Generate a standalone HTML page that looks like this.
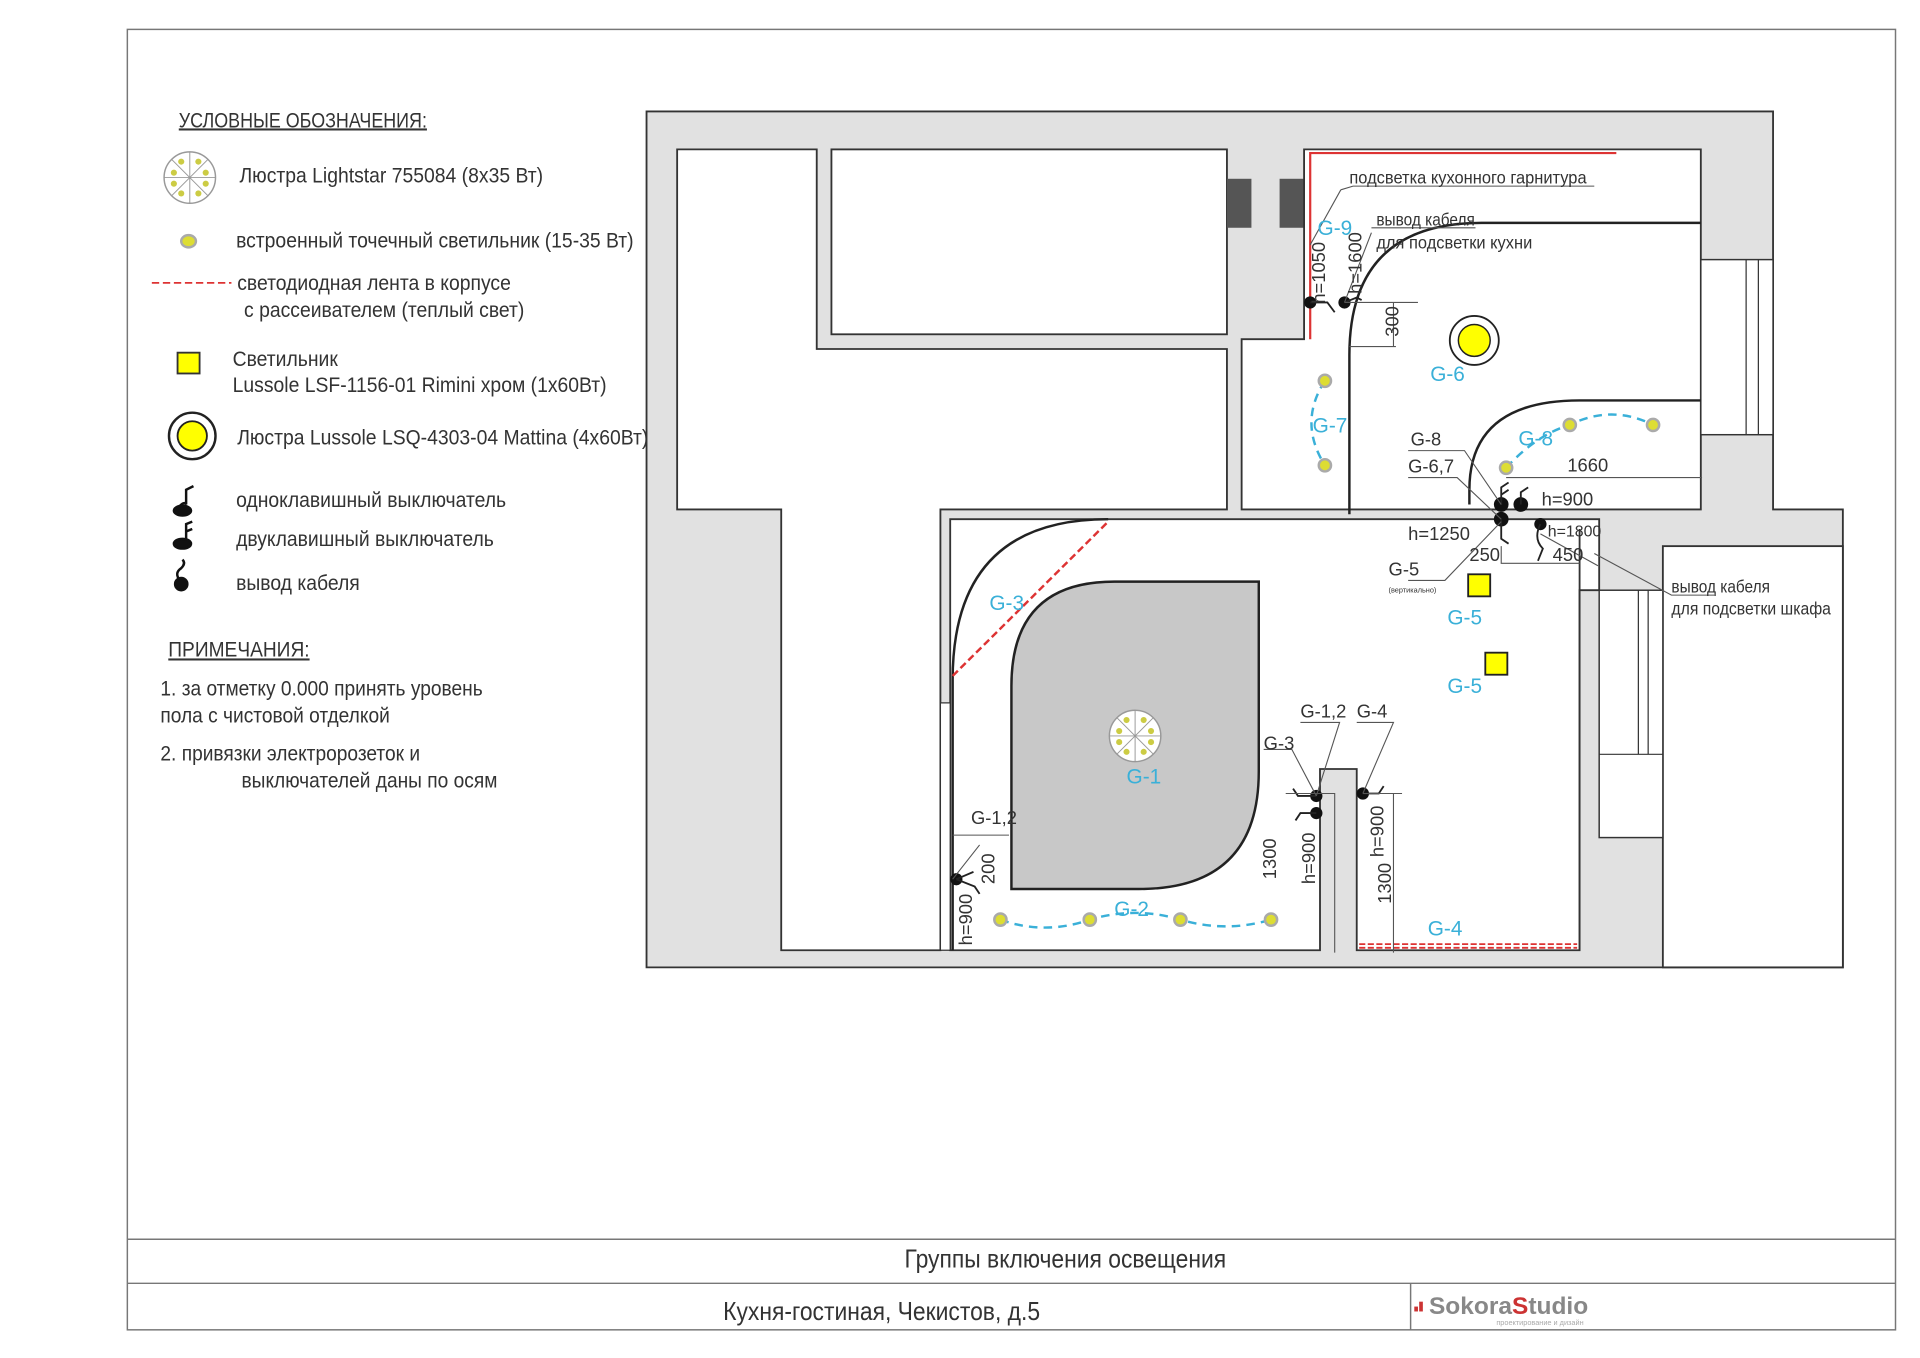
<!DOCTYPE html>
<html><head><meta charset="utf-8"><style>
html,body{margin:0;padding:0;background:#fff;}
svg{display:block;}
text{font-family:"Liberation Sans Narrow","Liberation Sans",sans-serif;}
</style></head><body>
<svg width="1920" height="1358" viewBox="0 0 1568 1109" preserveAspectRatio="none" xmlns="http://www.w3.org/2000/svg">
<rect x="0" y="0" width="1568" height="1109" fill="#fff"/>
<!-- frame -->
<rect x="104" y="24" width="1444" height="1062" fill="none" stroke="#777" stroke-width="1.2"/>
<line x1="104" y1="1012" x2="1548" y2="1012" stroke="#777" stroke-width="1.2"/>
<line x1="104" y1="1048" x2="1548" y2="1048" stroke="#777" stroke-width="1.2"/>
<line x1="1152" y1="1048" x2="1152" y2="1086" stroke="#777" stroke-width="1.2"/>
<text x="870" y="1035" font-size="21" text-anchor="middle" fill="#333" transform="translate(870 0) scale(0.89 1) translate(-870 0)">Группы включения освещения</text>
<text x="720" y="1078" font-size="21" text-anchor="middle" fill="#333" transform="translate(720 0) scale(0.89 1) translate(-720 0)">Кухня-гостиная, Чекистов,  д.5</text>
<rect x="1155" y="1067" width="3" height="4" fill="#c33"/><rect x="1159" y="1063" width="3" height="8" fill="#c33"/>
<text x="1167" y="1073" font-size="20" font-weight="bold" fill="#888">Sokora<tspan fill="#c33">S</tspan>tudio</text>
<text x="1222" y="1082" font-size="6" fill="#aaa">проектирование и дизайн</text>

<!-- legend -->
<g fill="#333" font-size="17">
<text x="146" y="104" text-decoration="underline" transform="translate(146 0) scale(0.86 1) translate(-146 0)">УСЛОВНЫЕ ОБОЗНАЧЕНИЯ:</text>
<g transform="translate(190 0) scale(0.93 1) translate(-190 0)">
<text x="196" y="149">Люстра Lightstar 755084 (8x35 Вт)</text>
<text x="193" y="202">встроенный точечный светильник (15-35 Вт)</text>
<text x="194" y="237">светодиодная лента в корпусе</text>
<text x="200" y="259">с рассеивателем (теплый свет)</text>
<text x="190" y="299">Светильник</text>
<text x="190" y="320">Lussole LSF-1156-01 Rimini хром  (1x60Вт)</text>
<text x="194" y="363">Люстра Lussole LSQ-4303-04 Mattina (4x60Вт)</text>
<text x="193" y="414">одноклавишный выключатель</text>
<text x="193" y="446">двуклавишный выключатель</text>
<text x="193" y="482">вывод кабеля</text>
</g>
<g transform="translate(131 0) scale(0.92 1) translate(-131 0)">
<text x="138" y="536" text-decoration="underline">ПРИМЕЧАНИЯ:</text>
<text x="131" y="568">1. за отметку 0.000 принять уровень</text>
<text x="131" y="590">пола с чистовой отделкой</text>
<text x="131" y="621">2. привязки электророзеток и</text>
<text x="203" y="643">выключателей даны по осям</text>
</g>
</g>
<rect x="528" y="340" width="30" height="40" fill="#fff"/>
<circle cx="155" cy="145" r="21" fill="#fff" stroke="#999" stroke-width="1.2"/>
<g stroke="#999" stroke-width="0.8"><line x1="134" y1="145" x2="176" y2="145"/><line x1="155" y1="124" x2="155" y2="166"/><line x1="140" y1="130" x2="170" y2="160"/><line x1="170" y1="130" x2="140" y2="160"/></g>
<g fill="#cc4" ><circle cx="148" cy="132" r="2.5"/><circle cx="162" cy="132" r="2.5"/><circle cx="142" cy="141" r="2.5"/><circle cx="168" cy="141" r="2.5"/><circle cx="142" cy="150" r="2.5"/><circle cx="168" cy="150" r="2.5"/><circle cx="148" cy="158" r="2.5"/><circle cx="162" cy="158" r="2.5"/></g>
<ellipse cx="154" cy="197" rx="6" ry="5" fill="#dd3" stroke="#aaa" stroke-width="2"/>
<line x1="124" y1="231" x2="189" y2="231" stroke="#d33" stroke-width="1.5" stroke-dasharray="6 3"/>
<rect x="145" y="288" width="18" height="17" fill="#ff0" stroke="#333" stroke-width="1.5"/>
<circle cx="157" cy="356" r="19" fill="#fff" stroke="#222" stroke-width="2"/>
<circle cx="157" cy="356" r="12" fill="#ff0" stroke="#222" stroke-width="1.5"/>
<g fill="#111" stroke="#111" stroke-width="2">
<path d="M143,418 Q150,408 152,412 L152,400 L158,397" fill="none"/><ellipse cx="149" cy="417" rx="7" ry="4"/>
<path d="M152,440 L152,428 L157,426 M152,434 L157,432" fill="none"/><ellipse cx="149" cy="444" rx="7" ry="4"/>
<path d="M147,474 Q142,468 148,464 Q152,460 149,457" fill="none"/><circle cx="148" cy="477" r="5"/>
</g>

<!-- plan -->
<path d="M528,91 H1448 V416 H1505 V790 H528 Z" fill="#e1e1e1" stroke="#333" stroke-width="1.5"/>
<path d="M553,122 H667 V285 H1002 V416 H768 V776 H638 V416 H553 Z" fill="#fff" stroke="#333" stroke-width="1.5"/>
<rect x="679" y="122" width="323" height="151" fill="#fff" stroke="#333" stroke-width="1.5"/>
<rect x="1002" y="146" width="20" height="40" fill="#555"/>
<rect x="1045" y="146" width="20" height="40" fill="#555"/>
<path d="M1065,122 H1389 V416 H1014 V277 H1065 Z" fill="#fff" stroke="#333" stroke-width="1.5"/>
<rect x="1389" y="212" width="59" height="143" fill="#fff" stroke="#333" stroke-width="1.2"/>
<line x1="1426" y1="212" x2="1426" y2="355" stroke="#333"/><line x1="1436" y1="212" x2="1436" y2="355" stroke="#333"/>
<path d="M776,424 H1306 V482 H1290 V776 H1108 V628 H1078 V776 H776 Z" fill="#fff" stroke="#333" stroke-width="1.5"/>
<line x1="1290" y1="432" x2="1290" y2="776" stroke="#333" stroke-width="1.5"/>
<rect x="768" y="574" width="8" height="202" fill="#fff" stroke="#333"/>
<rect x="1358" y="446" width="147" height="344" fill="#fff" stroke="#333" stroke-width="1.5"/>
<rect x="1306" y="482" width="52" height="202" fill="#fff" stroke="#333" stroke-width="1.2"/>
<line x1="1306" y1="616" x2="1358" y2="616" stroke="#333"/>
<line x1="1338" y1="482" x2="1338" y2="616" stroke="#333"/><line x1="1346" y1="482" x2="1346" y2="616" stroke="#333"/>
<!-- arcs -->
<g fill="none" stroke="#222" stroke-width="2">
<path d="M1102,420 L1102,290 Q1102,182 1210,182 L1389,182"/>
<path d="M1200,412 L1200,400 Q1200,327 1290,327 L1389,327"/>
<path d="M778,776 L778,555 Q778,424 905,424"/>
</g>
<path d="M826,560 Q826,475 910,475 L1028,475 L1028,630 Q1028,726 930,726 L826,726 Z" fill="#c8c8c8" stroke="#222" stroke-width="2"/>
<!-- red -->
<path d="M1070,277 V125 H1320" fill="none" stroke="#d33" stroke-width="1.8"/>
<line x1="778" y1="552" x2="905" y2="426" stroke="#d33" stroke-width="2" stroke-dasharray="6 3"/>
<line x1="1110" y1="771" x2="1288" y2="771" stroke="#d33" stroke-width="1.5" stroke-dasharray="5 2"/>
<line x1="1110" y1="774" x2="1288" y2="774" stroke="#d33" stroke-width="1.5" stroke-dasharray="5 2"/>
<!-- blue dashed -->
<g fill="none" stroke="#3ab0d8" stroke-width="2" stroke-dasharray="7 5">
<path d="M817,751 Q853,764 890,751 Q927,740 964,751 Q1001,762 1038,751"/>
<path d="M1082,311 Q1060,345 1082,380"/>
<path d="M1230,382 Q1255,355 1282,347 Q1316,330 1350,347"/>
</g>
<g fill="#dd3" stroke="#aaa" stroke-width="2">
<circle cx="817" cy="751" r="5"/><circle cx="890" cy="751" r="5"/><circle cx="964" cy="751" r="5"/><circle cx="1038" cy="751" r="5"/>
<circle cx="1082" cy="311" r="5"/><circle cx="1082" cy="380" r="5"/><circle cx="1282" cy="347" r="5"/><circle cx="1350" cy="347" r="5"/><circle cx="1230" cy="382" r="5"/>
</g>
<circle cx="1204" cy="278" r="20" fill="#fff" stroke="#222" stroke-width="1.5"/>
<circle cx="1204" cy="278" r="13" fill="#ff0" stroke="#222" stroke-width="1.2"/>
<circle cx="927" cy="601" r="21" fill="#fff" stroke="#999" stroke-width="1.2"/>
<g stroke="#999" stroke-width="0.8"><line x1="906" y1="601" x2="948" y2="601"/><line x1="927" y1="580" x2="927" y2="622"/><line x1="912" y1="586" x2="942" y2="616"/><line x1="942" y1="586" x2="912" y2="616"/></g>
<g fill="#cc4"><circle cx="920" cy="588" r="2.5"/><circle cx="934" cy="588" r="2.5"/><circle cx="914" cy="597" r="2.5"/><circle cx="940" cy="597" r="2.5"/><circle cx="914" cy="606" r="2.5"/><circle cx="940" cy="606" r="2.5"/><circle cx="920" cy="614" r="2.5"/><circle cx="934" cy="614" r="2.5"/></g>
<rect x="1199" y="469" width="18" height="18" fill="#ff0" stroke="#222" stroke-width="1.5"/>
<rect x="1213" y="533" width="18" height="18" fill="#ff0" stroke="#222" stroke-width="1.5"/>
<!-- switches -->
<g fill="#111"><circle cx="1070" cy="247" r="5"/><circle cx="1098" cy="247" r="5"/><circle cx="1226" cy="412" r="6"/><circle cx="1242" cy="412" r="6"/><circle cx="1226" cy="424" r="6"/><circle cx="1258" cy="428" r="5"/><circle cx="1075" cy="650" r="5"/><circle cx="1075" cy="664" r="5"/><circle cx="1113" cy="648" r="5"/><circle cx="781" cy="718" r="5"/></g>
<g fill="none" stroke="#222" stroke-width="1.5">
<path d="M1070,247 L1084,247 L1090,255 M1098,247 L1108,243 L1112,245"/>
<path d="M1226,412 V398 L1232,394 M1226,404 L1232,400 M1242,412 V402 L1248,398 M1226,424 V440 L1232,444 M1258,428 Q1252,440 1260,448 L1256,458"/>
<path d="M1075,650 H1060 L1056,644 M1075,664 H1062 L1058,670 M1113,648 H1126 L1130,642"/>
<path d="M781,718 L796,724 L800,730 M781,718 L795,712"/>
</g>
<!-- leaders/dimensions -->
<g fill="none" stroke="#555" stroke-width="0.9">
<path d="M1095,155 L1105,152 H1302 M1070,200 L1095,155"/>
<path d="M1120,186 H1205 M1098,247 L1120,190"/>
<path d="M1098,247 H1158 M1102,283 H1140 M1138,247 V283"/>
<path d="M1150,368 H1196 L1226,412 M1150,390 H1190 L1226,424"/>
<path d="M1230,390 H1390"/>
<path d="M1150,474 H1180 L1226,426 M1258,436 L1305,462 M1226,446 V460 H1290 M1302,452 L1365,486 H1400"/>
<path d="M1062,590 H1094 L1075,650 M1032,612 H1055 L1075,650 M1108,590 H1138 L1113,648"/>
<path d="M778,682 H824 M778,718 L800,690"/>
<path d="M1050,648 H1090 V778 M1113,648 H1145 M1138,648 V778"/>
</g>
<g fill="#333" font-size="15">
<text x="1102" y="150" font-size="14" transform="translate(1102 0) scale(0.96 1) translate(-1102 0)">подсветка кухонного гарнитура</text>
<text x="1124" y="184" font-size="14" transform="translate(1124 0) scale(0.9 1) translate(-1124 0)">вывод кабеля</text>
<text x="1124" y="203" font-size="14" transform="translate(1124 0) scale(0.96 1) translate(-1124 0)">для подсветки кухни</text>
<text x="1365" y="484" font-size="14" transform="translate(1365 0) scale(0.9 1) translate(-1365 0)">вывод кабеля</text>
<text x="1365" y="502" font-size="14" transform="translate(1365 0) scale(0.92 1) translate(-1365 0)">для подсветки шкафа</text>
<text x="1152" y="364">G-8</text><text x="1150" y="386">G-6,7</text>
<text x="1280" y="385">1660</text><text x="1259" y="413">h=900</text>
<text x="1150" y="441">h=1250</text><text x="1264" y="438" font-size="13">h=1800</text>
<text x="1200" y="458">250</text><text x="1268" y="458">450</text>
<text x="1134" y="470">G-5</text><text x="1134" y="484" font-size="6">(вертикально)</text>
<text x="1062" y="586">G-1,2</text><text x="1108" y="586">G-4</text><text x="1032" y="612">G-3</text>
<text x="793" y="673">G-1,2</text>
<text transform="translate(1082 248) rotate(-90)">h=1050</text>
<text transform="translate(1112 240) rotate(-90)">h=1600</text>
<text transform="translate(1142 275) rotate(-90)">300</text>
<text transform="translate(812 722) rotate(-90)">200</text>
<text transform="translate(794 772) rotate(-90)">h=900</text>
<text transform="translate(1042 718) rotate(-90)">1300</text>
<text transform="translate(1074 722) rotate(-90)">h=900</text>
<text transform="translate(1130 700) rotate(-90)">h=900</text>
<text transform="translate(1136 738) rotate(-90)">1300</text>
</g>
<g fill="#3ab0d8" font-size="17">
<text x="1076" y="192">G-9</text><text x="1168" y="311">G-6</text><text x="1072" y="353">G-7</text><text x="1240" y="364">G-8</text>
<text x="1182" y="510">G-5</text><text x="1182" y="566">G-5</text><text x="808" y="498">G-3</text><text x="920" y="640">G-1</text>
<text x="910" y="748">G-2</text><text x="1166" y="764">G-4</text>
</g>
</svg>
</body></html>
